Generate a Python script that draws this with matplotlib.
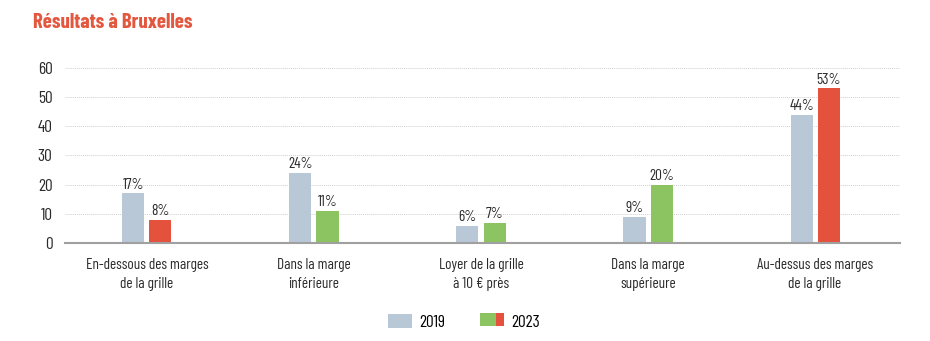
import matplotlib
matplotlib.use("Agg")
import matplotlib.pyplot as plt
from matplotlib.patches import Rectangle
from matplotlib.legend_handler import HandlerBase
import numpy as np

plt.rcParams['font.family'] = ['Barlow Condensed', 'Roboto Condensed', 'Archivo Narrow', 'DejaVu Sans']

categories = ["En-dessous des marges\nde la grille", "Dans la marge\ninférieure",
              "Loyer de la grille\nà 10 € près", "Dans la marge\nsupérieure",
              "Au-dessus des marges\nde la grille"]
v2019 = [17, 24, 6, 9, 44]
v2023 = [8, 11, 7, 20, 53]
yticks = [0, 10, 20, 30, 40, 50, 60]

GREY = "#b9c8d7"
RED = "#e4513c"
GREEN = "#8dc462"
colors2023 = [RED, GREEN, GREEN, GREEN, RED]
TXT = "#2b2b2b"

fig = plt.figure(figsize=(9.3, 3.41), dpi=100)
ax = fig.add_axes([0.07, 0.287, 0.898, 0.514])

x = np.arange(len(categories))
w = 0.132
off = 0.081
b1 = ax.bar(x - off, v2019, w, color=GREY, zorder=3)
b2 = ax.bar(x + off, v2023, w, color=colors2023, zorder=3)

for rect, v in list(zip(b1, v2019)) + list(zip(b2, v2023)):
    ax.text(rect.get_x() + rect.get_width() / 2, v + 0.6, f"{v}%",
            ha="center", va="bottom", fontsize=11, color=TXT)

ax.set_xlim(-0.49, 4.51)
ax.set_ylim(0, 60)
ax.set_yticks(yticks)
ax.set_xticks(x)
ax.set_xticklabels(categories, fontsize=11, color=TXT, linespacing=1.4)
ax.tick_params(axis="both", length=0, colors=TXT)
ax.tick_params(axis="x", pad=11, labelsize=11)
ax.tick_params(axis="y", pad=9, labelsize=12.5)
ax.grid(axis="y", color="#cfcfcf", linestyle=(0, (1, 1)), linewidth=0.7, zorder=0)
for s in ["top", "right", "left"]:
    ax.spines[s].set_visible(False)
ax.spines["bottom"].set_color("#a0a0a0")
ax.spines["bottom"].set_linewidth(1.5)
ax.spines["bottom"].set_zorder(4)


class SplitHandler(HandlerBase):
    # 2023 swatch: green part + red part
    def create_artists(self, legend, orig, xd, yd, width, height, fontsize, trans):
        a = Rectangle((xd, yd), width * 0.65, height, facecolor=GREEN, transform=trans)
        b = Rectangle((xd + width * 0.65, yd), width * 0.35, height, facecolor=RED, transform=trans)
        return [a, b]


h1 = Rectangle((0, 0), 1, 1, facecolor=GREY)
h2 = Rectangle((0, 0), 1, 1, facecolor=GREEN)
fig.legend([h1, h2], ["2019", "2023"], handler_map={h2: SplitHandler()},
           loc="center", bbox_to_anchor=(0.499, 0.055), ncol=2, frameon=False,
           fontsize=12.5, handlelength=1.4, handleheight=0.8, columnspacing=2.0,
           handletextpad=0.4)

fig.text(0.035, 0.935, "Résultats à Bruxelles", fontsize=15, fontweight="bold",
         color="#e4573f", ha="left", va="center")

fig.savefig("out.png", dpi=100)
